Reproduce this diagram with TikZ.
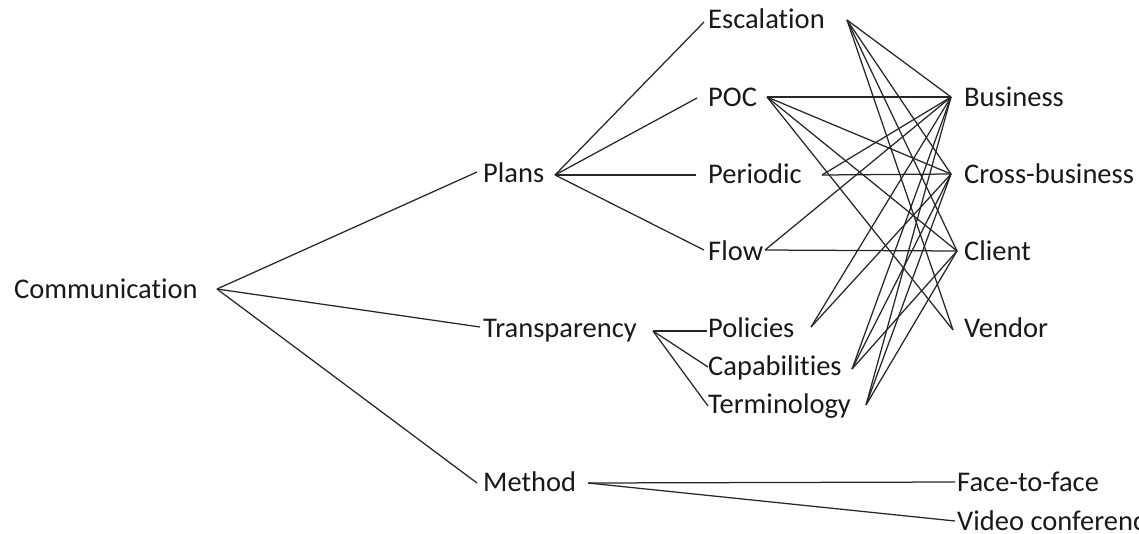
\documentclass[tikz,border=0pt]{standalone}
\usepackage{fontspec}
\setmainfont{Carlito}[Ligatures=CommonOff,RawFeature={-liga,-clig}]
\begin{document}
\begin{tikzpicture}[x=1pt,y=-1pt,
  lbl/.style={anchor=base west,inner sep=0pt,text=black!90,
    font=\fontsize{28.5}{34}\selectfont},
  link/.style={draw=black!85,line width=1.25pt}]
\useasboundingbox (0,0) rectangle (1139,533);

% labels
\node[lbl] (comm)   at (14,298)  {Communication};
\node[lbl] (plans)  at (483,182) {Plans};
\node[lbl] (trans)  at (483,337) {Transparency};
\node[lbl] (method) at (483,491) {Method};
\node[lbl] (esc)    at (708,28)  {Escalation};
\node[lbl] (poc)    at (708,106) {POC};
\node[lbl] (per)    at (708,183) {Periodic};
\node[lbl] (flow)   at (708,260) {Flow};
\node[lbl] (pol)    at (708,337) {Policies};
\node[lbl] (cap)    at (708,375) {Capabilities};
\node[lbl] (term)   at (708,413) {Terminology};
\node[lbl] (bus)    at (964,106) {Business};
\node[lbl] (cross)  at (964,183) {Cross-business};
\node[lbl] (client) at (964,260) {Client};
\node[lbl] (vendor) at (964,337) {Vendor};
\node[lbl] (f2f)    at (957,491) {Face-to-face};
\node[lbl] (video)  at (957,530) {Video conference};

% attachment points of the connectors
\coordinate (comm-r)   at (217,289);
\coordinate (plans-l)  at (477,172);
\coordinate (plans-r)  at (555,175);
\coordinate (trans-l)  at (480,327);
\coordinate (trans-r)  at (653,331);
\coordinate (method-l) at (477,483);
\coordinate (method-r) at (588,483);
\coordinate (esc-l)    at (704,22);
\coordinate (esc-r)    at (847,20);
\coordinate (poc-l)    at (697,98);
\coordinate (poc-r)    at (767,97);
\coordinate (per-l)    at (696,175);
\coordinate (per-r)    at (822,175);
\coordinate (flow-l)   at (704,250);
\coordinate (flow-r)   at (765,250);
\coordinate (pol-l)    at (707,331);
\coordinate (pol-r)    at (811,327);
\coordinate (cap-l)    at (708,367);
\coordinate (cap-r)    at (852,369);
\coordinate (term-l)   at (708,406);
\coordinate (term-r)   at (866,405);
\coordinate (bus-l)    at (951,97);
\coordinate (cross-l)  at (951,174);
\coordinate (client-l) at (957,251);
\coordinate (vendor-l) at (953,330);
\coordinate (f2f-l)    at (955,482);
\coordinate (video-l)  at (955,521);

% tree
\draw[link] (comm-r) -- (plans-l);
\draw[link] (comm-r) -- (trans-l);
\draw[link] (comm-r) -- (method-l);
\foreach \t in {esc,poc,per,flow} \draw[link] (plans-r) -- (\t-l);
\foreach \t in {pol,cap,term} \draw[link] (trans-r) -- (\t-l);
\draw[link] (method-r) -- (f2f-l);
\draw[link] (method-r) -- (video-l);

% cross links to the audiences
\foreach \t in {bus,cross,client,vendor} \draw[link] (esc-r) -- (\t-l);
\foreach \t in {bus,cross,client,vendor} \draw[link] (poc-r) -- (\t-l);
\foreach \t in {bus,cross} \draw[link] (per-r) -- (\t-l);
\foreach \t in {bus,client} \draw[link] (flow-r) -- (\t-l);
\foreach \t in {bus,cross} \draw[link] (pol-r) -- (\t-l);
\foreach \t in {bus,cross,client} \draw[link] (cap-r) -- (\t-l);
\foreach \t in {bus,cross,client} \draw[link] (term-r) -- (\t-l);
\end{tikzpicture}
\end{document}
